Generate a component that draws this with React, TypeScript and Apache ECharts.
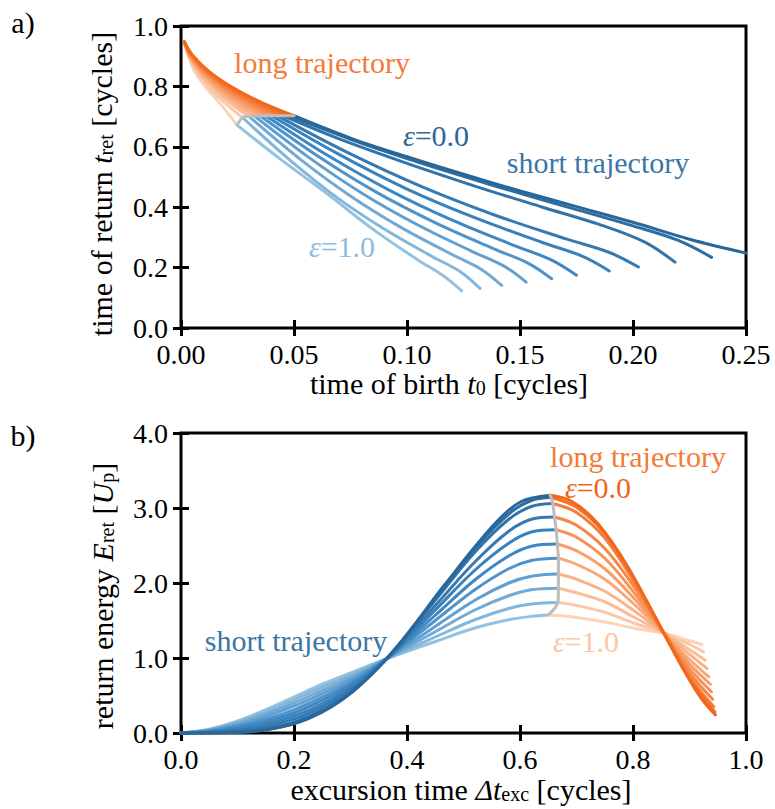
import React, { useEffect, useRef } from 'react';
import * as echarts from 'echarts';

const EPSILON = ['0.0', '0.1', '0.2', '0.3', '0.4', '0.5', '0.6', '0.7', '0.8', '0.9', '1.0'];

const A_XTICKS = [0, 0.05, 0.1, 0.15, 0.2, 0.25];
const A_YTICKS = [0, 0.2, 0.4, 0.6, 0.8, 1.0];
const B_XTICKS = [0, 0.2, 0.4, 0.6, 0.8, 1.0];
const B_YTICKS = [0, 1, 2, 3, 4];

// panel a) long trajectories: [t0, t_ret], index = epsilon*10
const topLong: number[][][] = [
  [[0.0015, 0.947], [0.005, 0.904], [0.0125, 0.849], [0.0225, 0.798], [0.035, 0.749], [0.05, 0.703]],
  [[0.0015, 0.947], [0.0048, 0.904], [0.0119, 0.849], [0.0214, 0.798], [0.0333, 0.749], [0.0475, 0.703]],
  [[0.0015, 0.947], [0.0045, 0.904], [0.0113, 0.849], [0.0203, 0.798], [0.0315, 0.749], [0.045, 0.703]],
  [[0.0015, 0.947], [0.0043, 0.904], [0.0106, 0.849], [0.0191, 0.798], [0.0298, 0.749], [0.0425, 0.703]],
  [[0.0015, 0.947], [0.004, 0.904], [0.01, 0.849], [0.018, 0.798], [0.028, 0.749], [0.04, 0.703]],
  [[0.0015, 0.947], [0.0038, 0.902], [0.0094, 0.849], [0.0169, 0.798], [0.0263, 0.749], [0.0375, 0.703]],
  [[0.0015, 0.947], [0.004, 0.899], [0.0088, 0.849], [0.0158, 0.798], [0.0245, 0.749], [0.035, 0.703]],
  [[0.0015, 0.947], [0.004, 0.896], [0.0081, 0.849], [0.0146, 0.798], [0.0228, 0.749], [0.0325, 0.702]],
  [[0.0015, 0.947], [0.004, 0.893], [0.0075, 0.849], [0.0135, 0.798], [0.021, 0.749], [0.03, 0.701]],
  [[0.0015, 0.947], [0.004, 0.889], [0.0068, 0.849], [0.0122, 0.798], [0.019, 0.748], [0.0272, 0.697]],
  [[0.0015, 0.947], [0.004, 0.885], [0.0062, 0.847], [0.0112, 0.795], [0.0174, 0.742], [0.0248, 0.672]],
];

// panel a) short trajectories: [t0, t_ret]
const topShort: number[][][] = [
  [[0.05, 0.703], [0.075, 0.629], [0.1, 0.567], [0.125, 0.509], [0.15, 0.454], [0.175, 0.402], [0.2, 0.35], [0.225, 0.294], [0.25, 0.248]],
  [[0.0475, 0.703], [0.075, 0.625], [0.1, 0.561], [0.125, 0.502], [0.15, 0.446], [0.175, 0.392], [0.2, 0.338], [0.22, 0.29], [0.2348, 0.234]],
  [[0.045, 0.703], [0.07, 0.626], [0.1, 0.545], [0.13, 0.47], [0.16, 0.4], [0.185, 0.343], [0.205, 0.285], [0.2186, 0.218]],
  [[0.0425, 0.703], [0.0745, 0.578], [0.1065, 0.468], [0.1384, 0.375], [0.1704, 0.295], [0.1896, 0.25], [0.2024, 0.202]],
  [[0.04, 0.703], [0.0699, 0.575], [0.0998, 0.461], [0.1297, 0.366], [0.1596, 0.284], [0.1775, 0.238], [0.1895, 0.189]],
  [[0.0375, 0.703], [0.065, 0.571], [0.0925, 0.455], [0.12, 0.357], [0.1475, 0.273], [0.164, 0.225], [0.175, 0.175]],
  [[0.035, 0.703], [0.0608, 0.568], [0.0866, 0.449], [0.1124, 0.349], [0.1382, 0.263], [0.1537, 0.214], [0.164, 0.163]],
  [[0.0325, 0.702], [0.0565, 0.565], [0.0806, 0.444], [0.1046, 0.342], [0.1287, 0.254], [0.1431, 0.204], [0.1527, 0.152]],
  [[0.03, 0.701], [0.0524, 0.561], [0.0748, 0.438], [0.0971, 0.334], [0.1195, 0.245], [0.1329, 0.194], [0.1419, 0.141]],
  [[0.0272, 0.697], [0.0482, 0.556], [0.0692, 0.431], [0.0903, 0.326], [0.1113, 0.236], [0.1239, 0.185], [0.1323, 0.131]],
  [[0.0248, 0.672], [0.0447, 0.555], [0.0646, 0.445], [0.0844, 0.33], [0.1043, 0.228], [0.1162, 0.172], [0.1242, 0.123]],
];

// panel b) short trajectories: [excursion time, return energy]
const botShort: number[][][] = [
  [[0, 0], [0.0694, 0.0014], [0.15, 0.041], [0.2267, 0.194], [0.3044, 0.553], [0.384, 1.163], [0.4666, 1.976], [0.5537, 2.775], [0.6006, 3.08], [0.6535, 3.17]],
  [[0, 0], [0.05, 0.001], [0.1, 0.013], [0.15, 0.046], [0.2, 0.127], [0.25, 0.292], [0.3, 0.538], [0.364, 0.99], [0.45, 1.8], [0.52, 2.46], [0.58, 2.92], [0.62, 3.1], [0.655, 3.14]],
  [[0, 0], [0.05, 0.004], [0.1, 0.02], [0.15, 0.06], [0.2, 0.145], [0.25, 0.31], [0.3, 0.551], [0.364, 0.99], [0.45, 1.77], [0.52, 2.41], [0.58, 2.85], [0.62, 3.02], [0.658, 3.06]],
  [[0, 0], [0.05, 0.009], [0.1, 0.037], [0.15, 0.09], [0.2, 0.185], [0.25, 0.351], [0.3, 0.581], [0.364, 0.99], [0.45, 1.7], [0.52, 2.28], [0.58, 2.69], [0.62, 2.85], [0.661, 2.88]],
  [[0, 0], [0.05, 0.015], [0.1, 0.053], [0.15, 0.118], [0.2, 0.224], [0.25, 0.39], [0.3, 0.61], [0.364, 0.99], [0.45, 1.64], [0.52, 2.17], [0.58, 2.53], [0.62, 2.68], [0.664, 2.71]],
  [[0, 0], [0.05, 0.021], [0.1, 0.071], [0.15, 0.15], [0.2, 0.267], [0.25, 0.434], [0.3, 0.642], [0.364, 0.99], [0.45, 1.57], [0.52, 2.04], [0.58, 2.36], [0.62, 2.49], [0.666, 2.52]],
  [[0, 0], [0.05, 0.026], [0.1, 0.089], [0.15, 0.182], [0.2, 0.309], [0.25, 0.477], [0.3, 0.673], [0.364, 0.99], [0.45, 1.5], [0.52, 1.91], [0.58, 2.19], [0.62, 2.3], [0.668, 2.33]],
  [[0, 0], [0.05, 0.033], [0.1, 0.109], [0.15, 0.218], [0.2, 0.357], [0.25, 0.525], [0.3, 0.709], [0.364, 0.99], [0.45, 1.42], [0.52, 1.77], [0.58, 2.0], [0.62, 2.09], [0.668, 2.12]],
  [[0, 0], [0.05, 0.039], [0.1, 0.127], [0.15, 0.25], [0.2, 0.4], [0.25, 0.569], [0.3, 0.74], [0.364, 0.99], [0.45, 1.35], [0.52, 1.64], [0.58, 1.83], [0.62, 1.91], [0.668, 1.93]],
  [[0, 0], [0.05, 0.045], [0.1, 0.144], [0.15, 0.282], [0.2, 0.443], [0.25, 0.612], [0.3, 0.772], [0.364, 0.99], [0.45, 1.28], [0.52, 1.51], [0.58, 1.66], [0.62, 1.72], [0.667, 1.74]],
  [[0, 0], [0.05, 0.05], [0.1, 0.16], [0.15, 0.31], [0.2, 0.48], [0.25, 0.65], [0.3, 0.8], [0.364, 0.99], [0.45, 1.22], [0.52, 1.4], [0.58, 1.51], [0.62, 1.555], [0.65, 1.573]],
];

// panel b) long trajectories: [excursion time, return energy]
const botLong: number[][][] = [
  [[0.6535, 3.17], [0.692, 3.087], [0.738, 2.79], [0.79, 2.226], [0.855, 1.32], [0.899, 0.72], [0.922, 0.45], [0.946, 0.24]],
  [[0.655, 3.14], [0.7, 3.01], [0.75, 2.66], [0.8, 2.08], [0.855, 1.33], [0.9, 0.72], [0.945, 0.28]],
  [[0.658, 3.06], [0.7, 2.94], [0.75, 2.6], [0.8, 2.04], [0.855, 1.33], [0.9, 0.75], [0.943, 0.35]],
  [[0.661, 2.88], [0.7, 2.77], [0.75, 2.46], [0.8, 1.97], [0.855, 1.33], [0.9, 0.8], [0.941, 0.45]],
  [[0.664, 2.71], [0.7, 2.61], [0.75, 2.33], [0.8, 1.89], [0.855, 1.33], [0.9, 0.86], [0.939, 0.55]],
  [[0.666, 2.52], [0.7, 2.43], [0.75, 2.19], [0.8, 1.81], [0.855, 1.33], [0.9, 0.92], [0.937, 0.65]],
  [[0.668, 2.33], [0.7, 2.25], [0.75, 2.05], [0.8, 1.73], [0.855, 1.33], [0.9, 0.98], [0.934, 0.75]],
  [[0.668, 2.12], [0.7, 2.05], [0.75, 1.89], [0.8, 1.64], [0.855, 1.33], [0.9, 1.05], [0.931, 0.86]],
  [[0.668, 1.93], [0.7, 1.87], [0.75, 1.75], [0.8, 1.55], [0.855, 1.33], [0.9, 1.11], [0.928, 0.97]],
  [[0.667, 1.74], [0.7, 1.7], [0.75, 1.61], [0.8, 1.47], [0.855, 1.33], [0.9, 1.18], [0.925, 1.08]],
  [[0.65, 1.573], [0.69, 1.55], [0.75, 1.48], [0.8, 1.4], [0.855, 1.33], [0.9, 1.23], [0.922, 1.18]],
];

const FONT = "'Liberation Serif', 'DejaVu Serif', 'Times New Roman', serif";
const FS = 28;
const TS = 30;

function hexToRgb(h: string) {
  const v = parseInt(h.slice(1), 16);
  return [(v >> 16) & 255, (v >> 8) & 255, v & 255];
}
function mix(a: string, b: string, t: number) {
  const A = hexToRgb(a), B = hexToRgb(b);
  const c = A.map((x, i) => Math.round(x + (B[i] - x) * t));
  return `rgb(${c[0]},${c[1]},${c[2]})`;
}
function ramp(stops: string[], t: number) {
  if (t <= 0.5) return mix(stops[0], stops[1], t * 2);
  return mix(stops[1], stops[2], (t - 0.5) * 2);
}
const BLUES = ['#2a6698', '#3d88c4', '#95c1e1'];
const ORANGES = ['#f2671b', '#f89d68', '#fdd3b8'];
const GREY = '#bdbdbd';

function richFor(color: string, size = TS) {
  return {
    r: { fill: color, fontFamily: FONT, fontSize: size, lineHeight: 30, verticalAlign: 'middle' },
    i: { fill: color, fontFamily: FONT, fontSize: size, fontStyle: 'italic', lineHeight: 30, verticalAlign: 'middle' },
    s: { fill: color, fontFamily: FONT, fontSize: Math.round(size * 0.68), lineHeight: 9, verticalAlign: 'bottom' },
  };
}

function mkText(x: number, y: number, text: string, color: string, rotation = 0) {
  return {
    type: 'text',
    x,
    y,
    rotation,
    silent: true,
    z: 100,
    style: {
      text,
      fill: color,
      fontFamily: FONT,
      fontSize: TS,
      align: 'center',
      verticalAlign: 'middle',
      textAlign: 'center',
      textVerticalAlign: 'middle',
      rich: richFor(color),
    },
  };
}

function mkX(gridIndex: number, ticks: number[], dec: number, main: boolean) {
  return {
    type: 'value',
    gridIndex,
    position: main ? 'bottom' : 'top',
    min: ticks[0],
    max: ticks[ticks.length - 1],
    interval: ticks[1] - ticks[0],
    axisLine: { show: false },
    splitLine: { show: false },
    axisTick: { show: true, inside: true, length: 8, lineStyle: { color: '#000', width: 3 } },
    axisLabel: {
      show: main,
      formatter: (v: number) => v.toFixed(dec),
      fontFamily: FONT,
      fontSize: FS,
      color: '#000',
      margin: 12,
    },
  };
}
function mkY(gridIndex: number, ticks: number[], dec: number, main: boolean) {
  return {
    type: 'value',
    gridIndex,
    position: main ? 'left' : 'right',
    min: ticks[0],
    max: ticks[ticks.length - 1],
    interval: ticks[1] - ticks[0],
    axisLine: { show: false },
    splitLine: { show: false },
    axisTick: { show: true, inside: true, length: 8, lineStyle: { color: '#000', width: 3 } },
    axisLabel: {
      show: main,
      formatter: (v: number) => v.toFixed(dec),
      fontFamily: FONT,
      fontSize: FS,
      color: '#000',
      margin: 13,
    },
  };
}

function lineSeries(name: string, data: number[][], color: string, xi: number, yi: number, smooth = 0.35) {
  return {
    type: 'line',
    name,
    xAxisIndex: xi,
    yAxisIndex: yi,
    data,
    showSymbol: false,
    symbol: 'none',
    smooth,
    silent: true,
    lineStyle: { color, width: 3, cap: 'round', join: 'round' },
  };
}

export default function App() {
  const ref = useRef<HTMLDivElement>(null);
  useEffect(() => {
    if (!ref.current) return;
    const chart = echarts.init(ref.current, undefined, { renderer: 'svg' });
    const series: any[] = [];
    for (let k = EPSILON.length - 1; k >= 0; k--) {
      const t = k / (EPSILON.length - 1);
      const b = ramp(BLUES, t);
      const o = ramp(ORANGES, t);
      series.push(lineSeries(`a short ε=${EPSILON[k]}`, topShort[k], b, 0, 0));
      series.push(lineSeries(`a long ε=${EPSILON[k]}`, topLong[k], o, 0, 0));
      series.push(lineSeries(`b short ε=${EPSILON[k]}`, botShort[k], b, 2, 2));
      series.push(lineSeries(`b long ε=${EPSILON[k]}`, botLong[k], o, 2, 2));
    }
    const topSwitch = topLong.map((c) => c[c.length - 1]);
    const botSwitch = botShort.map((c) => c[c.length - 1]);
    series.push(lineSeries('a switch', topSwitch, GREY, 0, 0, 0.3));
    series.push(lineSeries('b switch', botSwitch, GREY, 2, 2, 0.3));

    const option: any = {
      animation: false,
      backgroundColor: '#ffffff',
      textStyle: { fontFamily: FONT },
      grid: [
        { left: 181, top: 26, width: 565, height: 302, show: true, borderColor: '#000', borderWidth: 3, backgroundColor: 'transparent' },
        { left: 181, top: 433, width: 565, height: 300, show: true, borderColor: '#000', borderWidth: 3, backgroundColor: 'transparent' },
      ],
      xAxis: [mkX(0, A_XTICKS, 2, true), mkX(0, A_XTICKS, 2, false), mkX(1, B_XTICKS, 1, true), mkX(1, B_XTICKS, 1, false)],
      yAxis: [mkY(0, A_YTICKS, 1, true), mkY(0, A_YTICKS, 1, false), mkY(1, B_YTICKS, 1, true), mkY(1, B_YTICKS, 1, false)],
      series,
      graphic: [
        mkText(23, 22, '{r|a)}', '#000'),
        mkText(23, 435, '{r|b)}', '#000'),
        mkText(101, 184, '{r|time of return }{i|t}{s|ret}{r| [cycles]}', '#000', Math.PI / 2),
        mkText(449, 383, '{r|time of birth }{i|t}{s|0}{r| [cycles]}', '#000'),
        mkText(102, 596, '{r|return energy }{i|E}{s|ret}{r| [}{i|U}{s|p}{r|]}', '#000', Math.PI / 2),
        mkText(461, 789, '{r|excursion time }{i|Δt}{s|exc}{r| [cycles]}', '#000'),
        mkText(322, 62, '{r|long trajectory}', '#f47a38'),
        mkText(436, 135, '{i|ε}{r|=0.0}', '#2c6799'),
        mkText(598, 162, '{r|short trajectory}', '#3a76a8'),
        mkText(342, 246, '{i|ε}{r|=1.0}', '#8fbcdd'),
        mkText(638, 456, '{r|long trajectory}', '#f47a38'),
        mkText(598, 487, '{i|ε}{r|=0.0}', '#f0651c'),
        mkText(296, 640, '{r|short trajectory}', '#3a76a8'),
        mkText(586, 641, '{i|ε}{r|=1.0}', '#fcc6a4'),
      ],
    };
    chart.setOption(option);
    return () => chart.dispose();
  }, []);
  return (
    <div
      ref={ref}
      style={{ position: 'absolute', left: 0, top: 0, width: 775, height: 809, background: '#fff' }}
    />
  );
}
